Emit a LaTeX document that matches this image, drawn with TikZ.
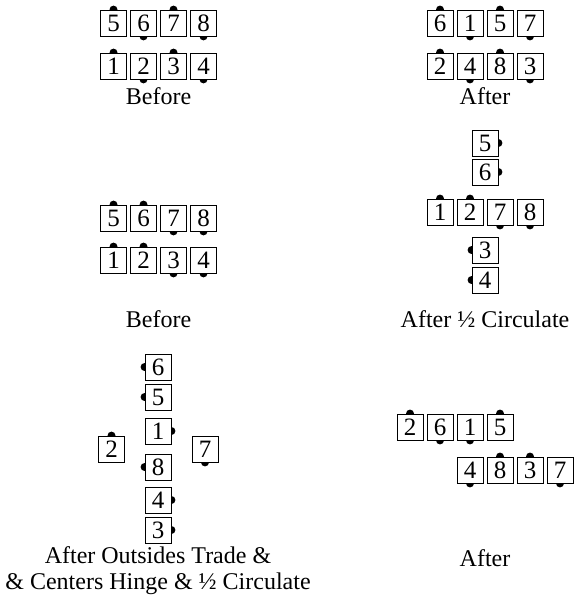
\documentclass[tikz,border=0pt]{standalone}
\usepackage{fontspec}
\setmainfont{Liberation Serif}
\usepackage{tikz}
\usetikzlibrary{backgrounds}

\tikzset{
  dancer/.style={draw, fill=white, line width=0.8pt, minimum size=26, inner sep=0pt,
    font=\fontsize{25}{26}\selectfont},
  caption/.style={align=center, inner sep=0pt, font=\fontsize{24}{26}\selectfont},
  nose/.style={fill=black}
}
% dot marking the way a dancer faces
\newcommand{\facing}[2]{\fill[nose] (#1.#2) circle (4);}

\begin{document}
\begin{tikzpicture}[x=1pt, y=-1pt]
    % Fix the page (575 x 602, y grows downward)
    \useasboundingbox (0,0) rectangle (575,602);

    % Top left: Before
    \node[dancer] (a5) at (113.5,23) {5};
    \node[dancer] (a6) at (143.5,23) {6};
    \node[dancer] (a7) at (173.5,23) {7};
    \node[dancer] (a8) at (203.5,23) {8};
    \node[dancer] (a1) at (113.5,66) {1};
    \node[dancer] (a2) at (143.5,66) {2};
    \node[dancer] (a3) at (173.5,66) {3};
    \node[dancer] (a4) at (203.5,66) {4};
    \node[caption] (alab) at (158.5,96) {Before};

    % Top right: After
    \node[dancer] (b6) at (440,23) {6};
    \node[dancer] (b1) at (470,23) {1};
    \node[dancer] (b5) at (500,23) {5};
    \node[dancer] (b7) at (530,23) {7};
    \node[dancer] (b2) at (440,66) {2};
    \node[dancer] (b4) at (470,66) {4};
    \node[dancer] (b8) at (500,66) {8};
    \node[dancer] (b3) at (530,66) {3};
    \node[caption] (blab) at (485,96) {After};

    % Middle left: Before
    \node[dancer] (c5) at (113.5,218) {5};
    \node[dancer] (c6) at (143.5,218) {6};
    \node[dancer] (c7) at (173.5,218) {7};
    \node[dancer] (c8) at (203.5,218) {8};
    \node[dancer] (c1) at (113.5,260) {1};
    \node[dancer] (c2) at (143.5,260) {2};
    \node[dancer] (c3) at (173.5,260) {3};
    \node[dancer] (c4) at (203.5,260) {4};
    \node[caption] (clab) at (158.5,319) {Before};

    % Middle right: After 1/2 Circulate
    \node[dancer] (d5) at (485,143) {5};
    \node[dancer] (d6) at (485,172) {6};
    \node[dancer] (d1) at (440,212) {1};
    \node[dancer] (d2) at (470,212) {2};
    \node[dancer] (d7) at (500,212) {7};
    \node[dancer] (d8) at (530,212) {8};
    \node[dancer] (d3) at (485,250) {3};
    \node[dancer] (d4) at (485,280) {4};
    \node[caption] (dlab) at (485,319) {After ½ Circulate};

    % Bottom left: After Outsides Trade ...
    \node[dancer] (e6) at (158,367) {6};
    \node[dancer] (e5) at (158,397) {5};
    \node[dancer] (e1) at (158,431) {1};
    \node[dancer] (e8) at (158,467) {8};
    \node[dancer] (e4) at (158,500) {4};
    \node[dancer] (e3) at (158,530) {3};
    \node[dancer] (e2) at (111.5,449) {2};
    \node[dancer] (e7) at (205,449) {7};
    \node[caption] (elab) at (158,571) {After Outsides Trade \&\\\& Centers Hinge \& ½ Circulate};

    % Bottom right: After
    \node[dancer] (f2) at (410,427) {2};
    \node[dancer] (f6) at (440,427) {6};
    \node[dancer] (f1) at (470,427) {1};
    \node[dancer] (f5) at (500,427) {5};
    \node[dancer] (f4) at (470,470) {4};
    \node[dancer] (f8) at (500,470) {8};
    \node[dancer] (f3) at (530,470) {3};
    \node[dancer] (f7) at (560,470) {7};
    \node[caption] (flab) at (485,558) {After};

    % Facing dots, under the boxes
    \begin{scope}[on background layer]
    \facing{a5}{north} \facing{a6}{south} \facing{a7}{north} \facing{a8}{south}
    \facing{a1}{north} \facing{a2}{south} \facing{a3}{north} \facing{a4}{south}
    \facing{b6}{north} \facing{b1}{south} \facing{b5}{north} \facing{b7}{south}
    \facing{b2}{north} \facing{b4}{south} \facing{b8}{north} \facing{b3}{south}
    \facing{c5}{north} \facing{c6}{north} \facing{c7}{south} \facing{c8}{south}
    \facing{c1}{north} \facing{c2}{north} \facing{c3}{south} \facing{c4}{south}
    \facing{d5}{east} \facing{d6}{east}
    \facing{d1}{north} \facing{d2}{north} \facing{d7}{south} \facing{d8}{south}
    \facing{d3}{west} \facing{d4}{west}
    \facing{e6}{west} \facing{e5}{west} \facing{e1}{east} \facing{e8}{west}
    \facing{e4}{east} \facing{e3}{east} \facing{e2}{north} \facing{e7}{south}
    \facing{f2}{north} \facing{f6}{south} \facing{f1}{south} \facing{f5}{north}
    \facing{f4}{south} \facing{f8}{north} \facing{f3}{north} \facing{f7}{south}
    \end{scope}
\end{tikzpicture}
\end{document}
